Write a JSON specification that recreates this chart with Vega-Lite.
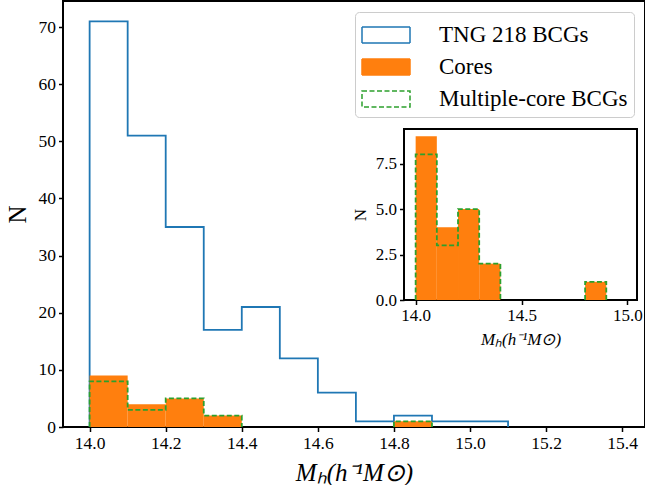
{
  "$schema": "https://vega.github.io/schema/vega-lite/v6.json",
  "background": "white",
  "padding": {"left": 5, "top": 1, "right": 0, "bottom": 0},
  "width": 582,
  "height": 426,
  "view": {"stroke": "black", "strokeWidth": 2, "fill": "white"},
  "datasets": {
    "tng": [
      {"series": "TNG 218 BCGs", "edge": 14.0, "n": 0},
      {"series": "TNG 218 BCGs", "edge": 14.0, "n": 71},
      {"series": "TNG 218 BCGs", "edge": 14.1, "n": 51},
      {"series": "TNG 218 BCGs", "edge": 14.2, "n": 35},
      {"series": "TNG 218 BCGs", "edge": 14.3, "n": 17},
      {"series": "TNG 218 BCGs", "edge": 14.4, "n": 21},
      {"series": "TNG 218 BCGs", "edge": 14.5, "n": 12},
      {"series": "TNG 218 BCGs", "edge": 14.6, "n": 6},
      {"series": "TNG 218 BCGs", "edge": 14.7, "n": 1},
      {"series": "TNG 218 BCGs", "edge": 14.8, "n": 2},
      {"series": "TNG 218 BCGs", "edge": 14.9, "n": 1},
      {"series": "TNG 218 BCGs", "edge": 15.0, "n": 1},
      {"series": "TNG 218 BCGs", "edge": 15.1, "n": 0}
    ],
    "cores": [
      {"series": "Cores", "lo": 14.0, "hi": 14.1, "n": 9},
      {"series": "Cores", "lo": 14.1, "hi": 14.2, "n": 4},
      {"series": "Cores", "lo": 14.2, "hi": 14.3, "n": 5},
      {"series": "Cores", "lo": 14.3, "hi": 14.4, "n": 2},
      {"series": "Cores", "lo": 14.8, "hi": 14.9, "n": 1}
    ],
    "multi": [
      {"series": "Multiple-core BCGs", "seg": 1, "edge": 14.0, "n": 0},
      {"series": "Multiple-core BCGs", "seg": 1, "edge": 14.0, "n": 8},
      {"series": "Multiple-core BCGs", "seg": 1, "edge": 14.1, "n": 3},
      {"series": "Multiple-core BCGs", "seg": 1, "edge": 14.2, "n": 5},
      {"series": "Multiple-core BCGs", "seg": 1, "edge": 14.3, "n": 2},
      {"series": "Multiple-core BCGs", "seg": 1, "edge": 14.4, "n": 0},
      {"series": "Multiple-core BCGs", "seg": 2, "edge": 14.8, "n": 0},
      {"series": "Multiple-core BCGs", "seg": 2, "edge": 14.8, "n": 1},
      {"series": "Multiple-core BCGs", "seg": 2, "edge": 14.9, "n": 0}
    ],
    "frame": [
      {"x0": 13.945, "x1": 15.045, "y0": 0, "y1": 9.4}
    ]
  },
  "resolve": {
    "scale": {"x": "independent", "y": "independent"},
    "axis": {"x": "independent", "y": "independent"}
  },
  "layer": [
    {
      "layer": [
        {
          "data": {"name": "tng"},
          "mark": {"type": "line", "interpolate": "step-after", "strokeWidth": 1.8},
          "encoding": {
            "x": {
              "field": "edge",
              "type": "quantitative",
              "scale": {"domain": [13.93, 15.46], "nice": false, "zero": false},
              "axis": {
                "orient": "bottom",
                "values": [14.0, 14.2, 14.4, 14.6, 14.8, 15.0, 15.2, 15.4],
                "format": ".1f",
                "domain": false, "grid": false,
                "tickColor": "black", "tickWidth": 1.5, "tickSize": 4.5,
                "labelColor": "black", "labelFont": "Liberation Serif", "labelFontSize": 17.5, "labelPadding": 3,
                "title": "Mₕ(h⁻¹M⊙)",
                "titleColor": "black", "titleFont": "Liberation Serif", "titleFontWeight": "normal",
                "titleFontSize": 25,
                "titleFontStyle": "italic",
                "titlePadding": 8
              }
            },
            "y": {
              "field": "n",
              "type": "quantitative",
              "scale": {"domain": [0, 74.55], "nice": false, "zero": true},
              "axis": {
                "orient": "left",
                "values": [0, 10, 20, 30, 40, 50, 60, 70],
                "format": "d",
                "domain": false, "grid": false,
                "tickColor": "black", "tickWidth": 1.5, "tickSize": 4.5,
                "labelColor": "black", "labelFont": "Liberation Serif", "labelFontSize": 17.5, "labelPadding": 3,
                "title": "N",
                "titleColor": "black", "titleFont": "Liberation Serif", "titleFontWeight": "normal",
                "titleFontSize": 25,
                "titlePadding": 8
              }
            },
            "order": {"value": null},
            "stroke": {
              "field": "series",
              "type": "nominal",
              "scale": {
                "domain": ["TNG 218 BCGs", "Cores", "Multiple-core BCGs"],
                "range": ["#1f77b4", "#ff7f0e", "#2ca02c"]
              },
              "legend": {
                "title": null,
                "orient": "top-right",
                "offset": 11,
                "padding": 6,
                "fillColor": "white",
                "strokeColor": "#cccccc",
                "cornerRadius": 4,
                "labelFont": "Liberation Serif",
                "labelFontSize": 23,
                "labelColor": "black",
                "labelLimit": 400,
                "labelOffset": 36,
                "rowPadding": 3,
                "symbolType": "M-1.5,-0.5H1.5V0.5H-1.5Z",
                "symbolSize": 1024,
                "symbolOffset": 8,
                "symbolStrokeWidth": 1.5
              }
            },
            "strokeDash": {
              "field": "series",
              "type": "nominal",
              "scale": {
                "domain": ["TNG 218 BCGs", "Cores", "Multiple-core BCGs"],
                "range": [[1, 0], [1, 0], [5, 2.5]]
              },
              "legend": {
                "title": null,
                "orient": "top-right",
                "offset": 11,
                "padding": 6,
                "fillColor": "white",
                "strokeColor": "#cccccc",
                "cornerRadius": 4,
                "labelFont": "Liberation Serif",
                "labelFontSize": 23,
                "labelColor": "black",
                "labelLimit": 400,
                "labelOffset": 36,
                "rowPadding": 3,
                "symbolType": "M-1.5,-0.5H1.5V0.5H-1.5Z",
                "symbolSize": 1024,
                "symbolOffset": 8,
                "symbolStrokeWidth": 1.5
              }
            }
          }
        },
        {
          "data": {"name": "cores"},
          "mark": {"type": "rect"},
          "encoding": {
            "x": {"field": "lo", "type": "quantitative"},
            "x2": {"field": "hi"},
            "y": {"field": "n", "type": "quantitative"},
            "y2": {"datum": 0},
            "fill": {
              "field": "series",
              "type": "nominal",
              "scale": {
                "domain": ["TNG 218 BCGs", "Cores", "Multiple-core BCGs"],
                "range": ["transparent", "#ff7f0e", "transparent"]
              },
              "legend": {
                "title": null,
                "orient": "top-right",
                "offset": 11,
                "padding": 6,
                "fillColor": "white",
                "strokeColor": "#cccccc",
                "cornerRadius": 4,
                "labelFont": "Liberation Serif",
                "labelFontSize": 23,
                "labelColor": "black",
                "labelLimit": 400,
                "labelOffset": 36,
                "rowPadding": 3,
                "symbolType": "M-1.5,-0.5H1.5V0.5H-1.5Z",
                "symbolSize": 1024,
                "symbolOffset": 8,
                "symbolStrokeWidth": 1.5
              }
            }
          }
        },
        {
          "data": {"name": "multi"},
          "mark": {"type": "line", "interpolate": "step-after", "strokeWidth": 1.8},
          "encoding": {
            "x": {"field": "edge", "type": "quantitative"},
            "y": {"field": "n", "type": "quantitative"},
            "detail": {"field": "seg", "type": "nominal"},
            "order": {"value": null},
            "stroke": {"field": "series", "type": "nominal"},
            "strokeDash": {"field": "series", "type": "nominal"}
          }
        }
      ]
    },
    {
      "layer": [
        {
          "data": {"name": "frame"},
          "mark": {"type": "rect", "fill": "white", "stroke": "black", "strokeWidth": 2},
          "encoding": {
            "x": {
              "field": "x0",
              "type": "quantitative",
              "scale": {"domain": [13.945, 15.045], "range": [341, 574], "nice": false, "zero": false},
              "axis": {
                "orient": "bottom",
                "offset": -127,
                "values": [14.0, 14.5, 15.0],
                "format": ".1f",
                "domain": false, "grid": false,
                "tickColor": "black", "tickWidth": 1.5, "tickSize": 4.5,
                "labelColor": "black", "labelFont": "Liberation Serif", "labelFontSize": 17, "labelPadding": 3,
                "title": "Mₕ(h⁻¹M⊙)",
                "titleColor": "black", "titleFont": "Liberation Serif", "titleFontWeight": "normal",
                "titleFontSize": 17,
                "titleFontStyle": "italic",
                "titlePadding": 8
              }
            },
            "x2": {"field": "x1"},
            "y": {
              "field": "y0",
              "type": "quantitative",
              "scale": {"domain": [0, 9.4], "range": [299, 128], "nice": false, "zero": true},
              "axis": {
                "orient": "left",
                "offset": -341,
                "values": [0, 2.5, 5, 7.5],
                "format": ".1f",
                "domain": false, "grid": false,
                "tickColor": "black", "tickWidth": 1.5, "tickSize": 4.5,
                "labelColor": "black", "labelFont": "Liberation Serif", "labelFontSize": 17, "labelPadding": 3,
                "title": "N",
                "titleColor": "black", "titleFont": "Liberation Serif", "titleFontWeight": "normal",
                "titleFontSize": 17,
                "titlePadding": 6
              }
            },
            "y2": {"field": "y1"}
          }
        },
        {
          "data": {"name": "cores"},
          "mark": {"type": "rect", "color": "#ff7f0e"},
          "encoding": {
            "x": {"field": "lo", "type": "quantitative"},
            "x2": {"field": "hi"},
            "y": {"field": "n", "type": "quantitative"},
            "y2": {"datum": 0}
          }
        },
        {
          "data": {"name": "multi"},
          "mark": {"type": "line", "interpolate": "step-after", "color": "#2ca02c", "strokeWidth": 1.8, "strokeDash": [5, 2.5]},
          "encoding": {
            "x": {"field": "edge", "type": "quantitative"},
            "y": {"field": "n", "type": "quantitative"},
            "detail": {"field": "seg", "type": "nominal"},
            "order": {"value": null}
          }
        }
      ]
    }
  ]
}
